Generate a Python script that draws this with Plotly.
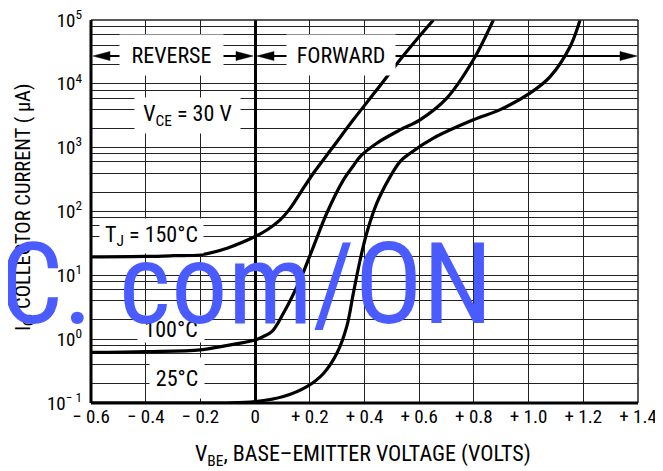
import plotly.graph_objects as go

# ---------------- data ----------------
tj150_v = [-0.6, -0.4, -0.3, -0.2, -0.1, 0.0, 0.043, 0.0914, 0.128, 0.1645, 0.213, 0.286, 0.359, 0.445, 0.53, 0.60, 0.652]
tj150_i = [19.5, 19.8, 20.3, 21.0, 26.9, 40.5, 51.3, 73.8, 112.0, 193.0, 398.0, 1040.0, 2730.0, 8050.0, 23800.0, 55000.0, 100000.0]

tj100_v = [-0.6, -0.4, -0.2, -0.1, 0.0, 0.03, 0.061, 0.1035, 0.1645, 0.213, 0.262, 0.323, 0.36, 0.384, 0.445, 0.53, 0.603, 0.701, 0.798, 0.871]
tj100_i = [0.62, 0.64, 0.68, 0.80, 0.97, 1.1, 1.31, 2.55, 8.5, 28.0, 94.0, 313.0, 525.0, 726.0, 1175.0, 1900.0, 2730.0, 5970.0, 23800.0, 100000.0]

tj25_v = [-0.6, -0.2, -0.1, 0.0, 0.1035, 0.189, 0.25, 0.299, 0.335, 0.359, 0.384, 0.408, 0.445, 0.494, 0.53, 0.567, 0.652, 0.798, 0.896, 1.005, 1.079, 1.152, 1.188]
tj25_i = [0.1, 0.1, 0.1, 0.105, 0.126, 0.18, 0.29, 0.60, 1.57, 5.2, 17.4, 45.7, 135.0, 352.0, 606.0, 820.0, 1410.0, 2730.0, 3940.0, 7150.0, 13000.0, 38500.0, 100000.0]

x_tick_vals = [-0.6, -0.4, -0.2, 0.0, 0.2, 0.4, 0.6, 0.8, 1.0, 1.2, 1.4]
x_tick_text = ["− 0.6", "− 0.4", "− 0.2", "0", "+ 0.2", "+ 0.4", "+ 0.6", "+ 0.8", "+ 1.0", "+ 1.2", "+ 1.4"]

y_decades = [-1, 0, 1, 2, 3, 4, 5]
y_decade_text = ["10<sup>− 1</sup>", "10<sup>0</sup>", "10<sup>1</sup>", "10<sup>2</sup>",
                 "10<sup>3</sup>", "10<sup>4</sup>", "10<sup>5</sup>"]
y_grid_multipliers = [2, 4, 6, 8]

curve_labels = ["T<sub>J</sub> = 150°C", "100°C", "25°C"]

# ---------------- layout helpers ----------------
FONT = "Roboto Condensed, Liberation Sans Narrow, Liberation Sans, Arial, sans-serif"
# the page body adds an 8 px margin, so the figure is drawn 8 px smaller
OFF = 8
W, H = 663 - OFF, 471 - OFF
L, R, T, B = 91 - OFF, 25, 20 - OFF, 68
PW = W - L - R          # 547
PH = H - T - B          # 383
PLOT_LEFT_WIN = L + OFF  # plot left edge in window pixels
PLOT_BOTTOM_WIN = T + OFF + PH


def px(xp):
    """window pixel x -> paper x"""
    return (xp - PLOT_LEFT_WIN) / PW


def py(yp):
    """window pixel y -> paper y"""
    return (PLOT_BOTTOM_WIN - yp) / PH


# y grid values / labels
y_vals, y_text = [], []
for k, d in enumerate(y_decades):
    y_vals.append(10.0 ** d)
    y_text.append(y_decade_text[k])
    if d < y_decades[-1]:
        for m in y_grid_multipliers:
            y_vals.append(m * 10.0 ** d)
            y_text.append("")

fig = go.Figure()
for v, i in [(tj150_v, tj150_i), (tj100_v, tj100_i), (tj25_v, tj25_i)]:
    fig.add_trace(go.Scatter(x=v, y=i, mode="lines",
                             line=dict(color="black", width=3.2, shape="spline", smoothing=1.0),
                             showlegend=False, hoverinfo="skip"))

shapes = []
# frame
shapes.append(dict(type="line", xref="paper", yref="paper", x0=0, x1=1, y0=1, y1=1, line=dict(color="#222", width=1.5)))
shapes.append(dict(type="line", xref="paper", yref="paper", x0=1, x1=1, y0=0, y1=1, line=dict(color="#222", width=1.5)))
shapes.append(dict(type="line", xref="paper", yref="paper", x0=0, x1=0, y0=0, y1=1, line=dict(color="black", width=3)))
shapes.append(dict(type="line", xref="paper", yref="paper", x0=0, x1=1, y0=0, y1=0, line=dict(color="black", width=3)))

# arrows (pixel geometry -> paper)
ARROW_Y = 56


def arrow(tail_x, tip_x):
    d = 1 if tip_x > tail_x else -1
    shapes.append(dict(type="line", xref="paper", yref="paper",
                       x0=px(tail_x), x1=px(tip_x - d * 8), y0=py(ARROW_Y), y1=py(ARROW_Y),
                       line=dict(color="black", width=2)))
    bx = tip_x - d * 17
    path = (f"M {px(tip_x)},{py(ARROW_Y)} L {px(bx)},{py(ARROW_Y - 4.5)} "
            f"L {px(bx)},{py(ARROW_Y + 4.5)} Z")
    shapes.append(dict(type="path", xref="paper", yref="paper", path=path,
                       fillcolor="black", line=dict(color="black", width=0.5)))


arrow(120, 93)
arrow(223, 253)
arrow(287, 257)
arrow(395, 637)

annotations = []


def label(text, cx, cy, w, h, size=22):
    annotations.append(dict(text=text, xref="paper", yref="paper", x=px(cx), y=py(cy),
                            xanchor="center", yanchor="middle", showarrow=False,
                            width=w, height=h, bgcolor="white", borderpad=0,
                            font=dict(family=FONT, size=size, color="black")))


label("REVERSE", 171.5, 55, 103, 40)
label("FORWARD", 341, 55, 108, 40)
label("V<sub>CE</sub> = 30 V", 187.5, 115.5, 105, 35)
label(curve_labels[0], 151.5, 236, 103, 34)
label(curve_labels[1], 171, 329, 66, 26)
label(curve_labels[2], 177, 378, 54, 40)

# axis titles
annotations.append(dict(text="V<sub>BE</sub>, BASE–EMITTER VOLTAGE (VOLTS)", xref="paper", yref="paper",
                        x=px(363), y=py(455), xanchor="center", yanchor="middle", showarrow=False,
                        font=dict(family=FONT, size=22, color="black")))
annotations.append(dict(text="I<sub>C</sub>, COLLECTOR CURRENT ( μA)", xref="paper", yref="paper",
                        x=px(24), y=py(208), xanchor="center", yanchor="middle", showarrow=False,
                        textangle=-90, font=dict(family=FONT, size=20.5, color="black")))

# watermark
annotations.append(dict(text="C. com/ON", xref="paper", yref="paper",
                        x=px(246), y=py(284), xanchor="center", yanchor="middle", showarrow=False,
                        font=dict(family=FONT, size=113, color="#4a5bff")))

fig.update_layout(
    template="none",
    width=W, height=H,
    margin=dict(l=L, r=R, t=T, b=B, autoexpand=False),
    paper_bgcolor="white", plot_bgcolor="white",
    shapes=shapes, annotations=annotations,
    font=dict(family=FONT, color="black"),
    xaxis=dict(range=[-0.6, 1.4], tickvals=x_tick_vals, ticktext=x_tick_text,
               showgrid=True, gridcolor="#222", gridwidth=1.3,
               zeroline=True, zerolinecolor="black", zerolinewidth=2.5,
               showline=False, ticks="", automargin=False, ticklabeloverflow="allow",
               tickfont=dict(family=FONT, size=19, color="black"), fixedrange=True),
    yaxis=dict(type="log", range=[-1, 5.0001], tickvals=y_vals, ticktext=y_text,
               showgrid=True, gridcolor="#222", gridwidth=1.3,
               zeroline=False, showline=False, ticks="", automargin=False,
               ticklabelstandoff=8, ticklabeloverflow="allow",
               tickfont=dict(family=FONT, size=19, color="black"), fixedrange=True),
)

fig.write_html("out.html")
